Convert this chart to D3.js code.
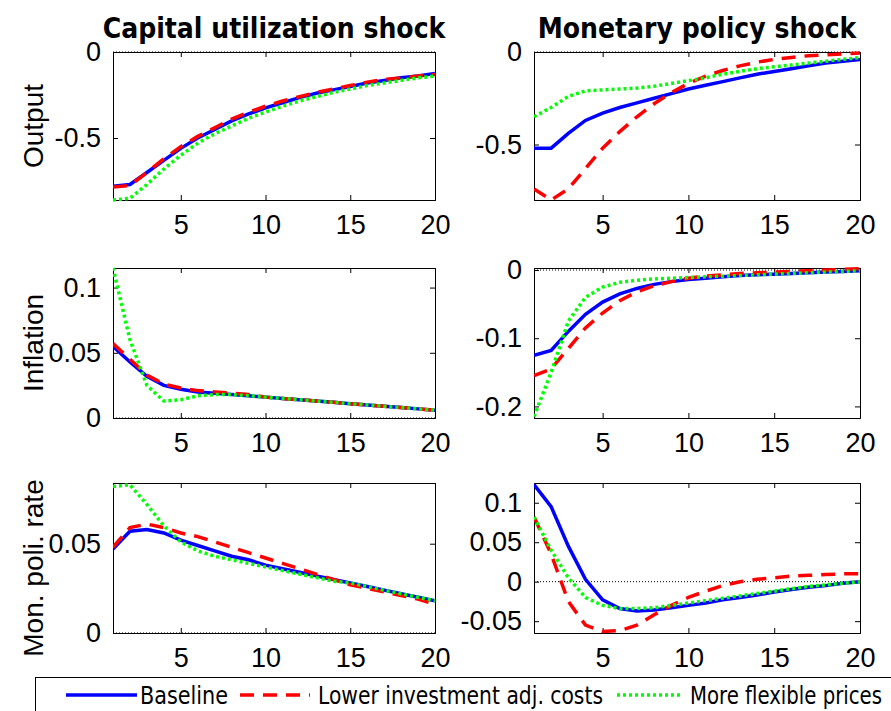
<!DOCTYPE html>
<html><head><meta charset="utf-8">
<style>body{margin:0;background:#fff}svg{font-family:"DejaVu Sans Condensed","DejaVu Sans",sans-serif;font-stretch:condensed}</style>
</head><body>
<svg width="891" height="711"></svg>
<script src="https://d3js.org/d3.v7.min.js"></script>
<script>
var periods = d3.range(1, 21);
var seriesNames = ["Baseline", "Lower investment adj. costs", "More flexible prices"];
var colTitles = ["Capital utilization shock", "Monetary policy shock"];
var rowLabels = ["Output", "Inflation", "Mon. poli. rate"];

var outCU_base = [-0.78,-0.77,-0.70,-0.63,-0.56,-0.50,-0.45,-0.40,-0.36,-0.325,-0.295,-0.265,-0.24,-0.22,-0.20,-0.18,-0.165,-0.15,-0.14,-0.125];
var outCU_inv  = [-0.785,-0.775,-0.70,-0.62,-0.55,-0.49,-0.44,-0.39,-0.35,-0.315,-0.285,-0.26,-0.235,-0.215,-0.195,-0.175,-0.16,-0.15,-0.14,-0.13];
var outCU_flex = [-0.86,-0.85,-0.77,-0.68,-0.60,-0.53,-0.475,-0.43,-0.385,-0.35,-0.315,-0.285,-0.26,-0.235,-0.215,-0.195,-0.18,-0.165,-0.15,-0.14];
var outMP_base = [-0.52,-0.52,-0.44,-0.37,-0.33,-0.30,-0.275,-0.25,-0.225,-0.20,-0.18,-0.16,-0.14,-0.12,-0.105,-0.09,-0.075,-0.06,-0.05,-0.04];
var outMP_inv  = [-0.74,-0.80,-0.74,-0.63,-0.52,-0.43,-0.35,-0.28,-0.22,-0.17,-0.13,-0.10,-0.075,-0.055,-0.04,-0.03,-0.02,-0.015,-0.01,-0.005];
var outMP_flex = [-0.35,-0.30,-0.24,-0.21,-0.205,-0.20,-0.195,-0.185,-0.17,-0.155,-0.14,-0.12,-0.105,-0.09,-0.08,-0.07,-0.06,-0.05,-0.04,-0.03];
var infCU_base = [0.055,0.043,0.032,0.025,0.022,0.020,0.019,0.018,0.017,0.016,0.015,0.014,0.013,0.012,0.011,0.010,0.009,0.008,0.007,0.006];
var infCU_inv  = [0.057,0.045,0.033,0.026,0.023,0.021,0.020,0.019,0.018,0.016,0.015,0.014,0.013,0.012,0.011,0.010,0.009,0.008,0.007,0.006];
var infCU_flex = [0.115,0.060,0.025,0.013,0.014,0.017,0.018,0.018,0.017,0.016,0.015,0.014,0.013,0.012,0.011,0.010,0.009,0.008,0.007,0.006];
var infMP_base = [-0.125,-0.118,-0.09,-0.065,-0.047,-0.035,-0.027,-0.021,-0.017,-0.014,-0.012,-0.010,-0.008,-0.007,-0.006,-0.005,-0.004,-0.003,-0.002,-0.001];
var infMP_inv  = [-0.155,-0.145,-0.115,-0.085,-0.063,-0.045,-0.032,-0.023,-0.017,-0.012,-0.009,-0.007,-0.005,-0.004,-0.003,-0.002,-0.001,0,0.001,0.002];
var infMP_flex = [-0.215,-0.15,-0.075,-0.04,-0.025,-0.018,-0.015,-0.013,-0.012,-0.011,-0.010,-0.009,-0.008,-0.007,-0.006,-0.005,-0.004,-0.003,-0.002,-0.001];
var rateCU_base = [0.047,0.057,0.058,0.056,0.052,0.049,0.046,0.043,0.041,0.038,0.036,0.034,0.032,0.030,0.028,0.026,0.024,0.022,0.020,0.018];
var rateCU_inv  = [0.048,0.059,0.061,0.059,0.056,0.054,0.051,0.048,0.045,0.042,0.039,0.036,0.033,0.030,0.027,0.025,0.023,0.021,0.019,0.016];
var rateCU_flex = [0.082,0.083,0.072,0.060,0.051,0.046,0.043,0.041,0.039,0.037,0.035,0.033,0.031,0.029,0.028,0.026,0.024,0.022,0.020,0.018];
var rateMP_base = [0.123,0.095,0.045,0.003,-0.023,-0.034,-0.037,-0.036,-0.033,-0.030,-0.027,-0.023,-0.020,-0.017,-0.013,-0.010,-0.007,-0.005,-0.002,0.000];
var rateMP_inv  = [0.082,0.035,-0.025,-0.055,-0.063,-0.062,-0.055,-0.042,-0.030,-0.020,-0.012,-0.005,0.000,0.003,0.005,0.007,0.008,0.009,0.010,0.010];
var rateMP_flex = [0.082,0.040,0.005,-0.020,-0.030,-0.034,-0.034,-0.033,-0.030,-0.027,-0.024,-0.021,-0.018,-0.015,-0.012,-0.009,-0.006,-0.004,-0.002,0.000];

var panels = [
  {r:0,c:0,dom:[-0.86,0],ticks:[-0.5,0],s:[outCU_base,outCU_inv,outCU_flex]},
  {r:0,c:1,dom:[-0.80,0],ticks:[-0.5,0],s:[outMP_base,outMP_inv,outMP_flex]},
  {r:1,c:0,dom:[0,0.115],ticks:[0,0.05,0.1],s:[infCU_base,infCU_inv,infCU_flex]},
  {r:1,c:1,dom:[-0.217,0.003],ticks:[-0.2,-0.1,0],s:[infMP_base,infMP_inv,infMP_flex]},
  {r:2,c:0,dom:[0,0.084],ticks:[0,0.05],s:[rateCU_base,rateCU_inv,rateCU_flex]},
  {r:2,c:1,dom:[-0.065,0.125],ticks:[-0.05,0,0.05,0.1],s:[rateMP_base,rateMP_inv,rateMP_flex]}
];

var colors = ["#0000ff","#ff0000","#00ff00"];
var dashes = [null,"14,9","3,3"];
var colX = [[113,435],[534,860]];
var rowY = [[52,200],[268,418],[483,633]];

var svg = d3.select("svg");
var fmt = d => d === 0 ? "0" : String(d);

panels.forEach(function(p) {
  var x = d3.scaleLinear().domain([1,20]).range(colX[p.c]);
  var y = d3.scaleLinear().domain(p.dom).range([rowY[p.r][1], rowY[p.r][0]]);
  var g = svg.append("g");
  g.append("line").attr("x1",x(1)).attr("x2",x(20)).attr("y1",y(0)).attr("y2",y(0))
    .attr("stroke","#000").attr("stroke-width",1).attr("stroke-dasharray","1,2");
  g.append("g").attr("transform","translate(0,"+rowY[p.r][1]+")")
    .call(d3.axisBottom(x).tickValues([5,10,15,20]).tickSize(-5).tickPadding(15))
    .call(a=>a.selectAll("text").attr("font-size",27));
  g.append("g").attr("transform","translate(0,"+rowY[p.r][0]+")")
    .call(d3.axisTop(x).tickValues([5,10,15,20]).tickSize(-5).tickFormat(""));
  g.append("g").attr("transform","translate("+colX[p.c][0]+",0)")
    .call(d3.axisLeft(y).tickValues(p.ticks).tickSize(-5).tickPadding(12).tickFormat(fmt))
    .call(a=>a.selectAll("text").attr("font-size",27));
  g.append("g").attr("transform","translate("+colX[p.c][1]+",0)")
    .call(d3.axisRight(y).tickValues(p.ticks).tickSize(-5).tickFormat(""));
  g.selectAll(".domain").attr("stroke","#000");
  var line = d3.line().x((d,i)=>x(periods[i])).y(d=>y(d));
  var clip = "clip"+p.r+p.c;
  g.append("clipPath").attr("id",clip).append("rect")
    .attr("x",colX[p.c][0]).attr("y",rowY[p.r][0]-2)
    .attr("width",colX[p.c][1]-colX[p.c][0]).attr("height",rowY[p.r][1]-rowY[p.r][0]+4);
  [0,1,2].forEach(function(k){
    g.append("path").datum(p.s[k]).attr("d",line).attr("clip-path","url(#"+clip+")")
      .attr("fill","none").attr("stroke",colors[k]).attr("stroke-width",3.5)
      .attr("stroke-dasharray",dashes[k]);
  });
});

colTitles.forEach(function(t,i){
  svg.append("text").attr("x",(colX[i][0]+colX[i][1])/2).attr("y",38)
    .attr("text-anchor","middle").attr("font-size",28).attr("font-weight","bold").text(t);
});
rowLabels.forEach(function(t,i){
  var cy = (rowY[i][0]+rowY[i][1])/2 + (i===2?10:0);
  svg.append("text").attr("transform","translate(43,"+cy+") rotate(-90)")
    .attr("text-anchor","middle").attr("font-family","Liberation Sans,sans-serif")
    .attr("font-size",28).text(t);
});

var lg = svg.append("g");
lg.append("rect").attr("x",35.5).attr("y",677.5).attr("width",860).attr("height",40)
  .attr("fill","#fff").attr("stroke","#000");
var legLine = [[66,137],[240,310],[617,683]];
var legText = [[140,88],[318,285],[690,192]];
seriesNames.forEach(function(n,k){
  lg.append("line").attr("x1",legLine[k][0]).attr("x2",legLine[k][1]).attr("y1",695).attr("y2",695)
    .attr("stroke",colors[k]).attr("stroke-width",3.5).attr("stroke-dasharray",dashes[k]);
  lg.append("text").attr("x",legText[k][0]).attr("y",704).attr("font-size",24)
    .attr("textLength",legText[k][1]).attr("lengthAdjust","spacingAndGlyphs").text(n);
});
</script>
</body></html>
